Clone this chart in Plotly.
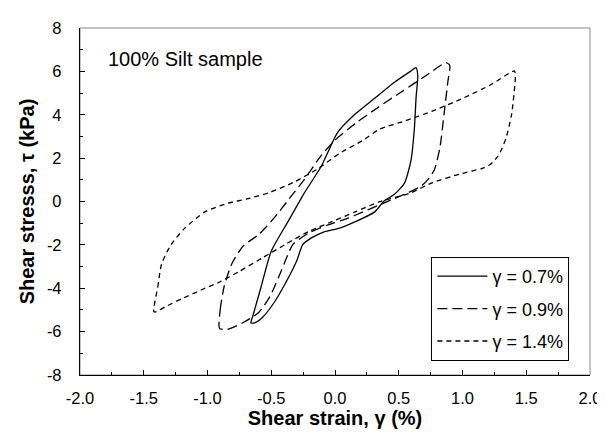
import plotly.graph_objects as go

# gamma = 0.7 %  (solid loop)
x07 = [-0.66, -0.645, -0.58, -0.50, -0.37, -0.24, -0.11, 0.02, 0.152, 0.309, 0.466, 0.596, 0.635,
       0.649, 0.636, 0.623, 0.596, 0.545, 0.466, 0.387, 0.309, 0.16, 0.036, -0.085, -0.188,
       -0.253, -0.30, -0.39, -0.48, -0.57, -0.63, -0.66]
y07 = [-5.60, -5.29, -3.94, -2.29, -0.94, 0.40, 1.60, 3.18, 4.00, 4.75, 5.50, 6.02, 6.17,
       5.80, 4.80, 3.40, 1.90, 0.85, 0.33, 0.03, -0.49, -0.93, -1.23, -1.40, -1.69,
       -1.99, -2.73, -3.78, -4.68, -5.35, -5.60, -5.60]

# gamma = 0.9 %  (long dash loop)
x09 = [-0.906, -0.90, -0.87, -0.81, -0.72, -0.60, -0.48, -0.36, -0.24, -0.115, -0.005, 0.16, 0.34,
       0.52, 0.70, 0.87, 0.90, 0.885, 0.855, 0.824, 0.78, 0.727, 0.675, 0.57, 0.46, 0.34, 0.22,
       0.097, -0.055, -0.206, -0.33, -0.42, -0.51, -0.60, -0.72, -0.84, -0.906]
y09 = [-5.85, -4.98, -3.93, -2.88, -2.05, -1.53, -0.78, 0.12, 1.02, 2.07, 2.80, 3.60, 4.35,
       5.05, 5.75, 6.40, 6.27, 5.52, 4.02, 2.52, 1.47, 1.00, 0.71, 0.40, 0.12, -0.18, -0.48,
       -0.78, -1.08, -1.45, -1.98, -3.18, -4.38, -5.13, -5.58, -5.89, -5.85]

# gamma = 1.4 %  (short dash loop)
x14 = [-1.422, -1.39, -1.36, -1.286, -1.18, -1.024, -0.84, -0.69, -0.51, -0.33, -0.145, 0.036,
       0.22, 0.348, 0.55, 0.764, 1.006, 1.218, 1.407, 1.415, 1.385, 1.34, 1.28, 1.22, 1.15,
       1.00, 0.764, 0.594, 0.34, 0.158, -0.024, -0.206, -0.39, -0.57, -0.75, -0.90, -1.05,
       -1.20, -1.33, -1.41, -1.422]
y14 = [-5.06, -3.94, -2.88, -1.99, -1.24, -0.49, -0.08, 0.12, 0.42, 0.87, 1.47, 2.22,
       2.82, 3.33, 3.72, 4.17, 4.77, 5.37, 6.02, 5.82, 4.02, 2.90, 2.10, 1.72, 1.52,
       1.30, 0.87, 0.40, -0.03, -0.48, -0.93, -1.38, -1.98, -2.60, -3.22, -3.70, -4.08,
       -4.48, -4.85, -5.10, -5.06]

names = ["γ = 0.7%", "γ = 0.9%", "γ = 1.4%"]
dashes = ["solid", "10px,5px", "5px,4px"]

x_tickvals = [-2.0, -1.5, -1.0, -0.5, 0.0, 0.5, 1.0, 1.5, 2.0]
x_ticktext = ["-2.0", "-1.5", "-1.0", "-0.5", "0.0", "0.5", "1.0", "1.5", "2.0"]
y_tickvals = [-8, -6, -4, -2, 0, 2, 4, 6, 8]
y_ticktext = ["-8", "-6", "-4", "-2", "0", "2", "4", "6", "8"]

FONT = "Liberation Sans, Arial, sans-serif"

fig = go.Figure()
for xs, ys, nm, ds in zip([x07, x09, x14], [y07, y09, y14], names, dashes):
    fig.add_trace(go.Scatter(
        x=xs, y=ys, mode="lines", name=nm, legendgroup=nm,
        line=dict(color="black", width=1.3, dash=ds, shape="spline", smoothing=0.6),
    ))

axis_common = dict(
    showgrid=False, zeroline=False, showline=True, linecolor="black", linewidth=1.3,
    ticks="inside", ticklen=5, tickcolor="black", tickwidth=1,
    tickfont=dict(family=FONT, size=16.5, color="black"),
)

fig.update_xaxes(
    range=[-2, 2], tickmode="array", tickvals=x_tickvals, ticktext=x_ticktext,
    minor=dict(dtick=0.25, tick0=-2, ticks="inside", ticklen=3, tickcolor="black"),
    title=dict(text="<b>Shear strain, γ (%)</b>", font=dict(family=FONT, size=20, color="black"), standoff=4),
    ticklabelstandoff=8,
    **axis_common,
)
fig.update_yaxes(
    range=[-8, 8], tickmode="array", tickvals=y_tickvals, ticktext=y_ticktext,
    minor=dict(dtick=1, tick0=-8, ticks="inside", ticklen=3, tickcolor="black"),
    title=dict(text="<b>Shear stresss, τ (kPa)</b>", font=dict(family=FONT, size=20, color="black"), standoff=6),
    ticklabelstandoff=14,
    **axis_common,
)

fig.add_shape(type="rect", xref="paper", yref="paper", x0=0, y0=0, x1=1, y1=1,
              line=dict(color="#8a8a8a", width=1), layer="below")

fig.add_annotation(x=-1.80, y=6.58, xref="x", yref="y", text="100% Silt sample",
                   showarrow=False, xanchor="left", yanchor="middle",
                   font=dict(family=FONT, size=20, color="black"))

fig.update_layout(
    width=605, height=432,
    margin=dict(l=72, r=23, t=11, b=65),
    paper_bgcolor="white", plot_bgcolor="white",
    font=dict(family=FONT, color="black"),
    legend=dict(
        x=0.689, y=0.34, xanchor="left", yanchor="top",
        bordercolor="black", borderwidth=1, bgcolor="white",
        font=dict(family=FONT, size=18, color="black"),
        tracegroupgap=6, itemwidth=50,
    ),
)

fig.write_html("out.html")
